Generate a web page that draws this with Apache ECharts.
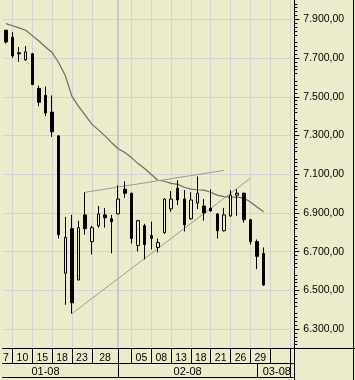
<!DOCTYPE html>
<html><head><meta charset="utf-8">
<script src="https://cdn.jsdelivr.net/npm/echarts@6/dist/echarts.min.js"></script>
<style>html,body{margin:0;padding:0;background:#ECEBCC}#c{width:355px;height:380px}</style>
</head><body><div id="c"></div>
<script>
const dates = [
 '2008-01-09','2008-01-10','2008-01-11','2008-01-14','2008-01-15','2008-01-16','2008-01-17','2008-01-18',
 '2008-01-21','2008-01-22','2008-01-23','2008-01-24','2008-01-25','2008-01-28','2008-01-29','2008-01-30','2008-01-31',
 '2008-02-01','2008-02-04','2008-02-05','2008-02-06','2008-02-07','2008-02-08','2008-02-11','2008-02-12','2008-02-13',
 '2008-02-14','2008-02-15','2008-02-18','2008-02-19','2008-02-20','2008-02-21','2008-02-22','2008-02-25','2008-02-26',
 '2008-02-27','2008-02-28','2008-02-29','2008-03-03','2008-03-04','2008-03-05','2008-03-06','2008-03-07','2008-03-10'
];
const opens  = [7844,7808,7727,7691,7722,7543,7507,7421,7298,6589,6819,6554,6890,6752,6834,6890,6870,6895,7023,7002,6732,6834,6783,6722,6798,6921,7028,6972,6870,6951,6936,6926,6895,6808,6885,6992,7002,6865,6752,6691];
const closes = [7783,7711,7722,7732,7563,7472,7416,7319,6788,6773,6436,6824,6819,6824,6895,6875,6855,6972,7002,6768,6860,6737,6768,6747,6972,6972,6967,6839,6967,7002,6900,6911,6808,6890,6992,7002,6865,6752,6676,6528];
const lows   = [7775,7701,7681,7686,7560,7451,7400,7293,6768,6426,6380,6552,6788,6686,6824,6824,6691,6893,6977,6742,6701,6660,6712,6696,6793,6906,6941,6804,6865,6921,6860,6906,6768,6805,6880,6885,6850,6737,6610,6523];
const highs  = [7846,7834,7757,7762,7727,7558,7553,7507,7303,6880,6890,6860,7007,6834,6936,6926,6890,7043,7064,7005,6865,6844,6855,6768,6977,7013,7069,7018,7007,7089,6972,7023,6898,6926,7018,7023,7005,6870,6763,6722];
const ma20   = [7878,7867,7856,7844,7816,7788,7757,7729,7676,7609,7502,7451,7405,7359,7329,7298,7263,7232,7212,7186,7155,7130,7099,7069,7064,7053,7048,7033,7023,7020,7018,7007,6992,6984,6982,6982,6977,6957,6931,6906];
const upperTrend = [[12, 7007], [33, 7120]];
const lowerTrend = [[10, 6380], [37, 7079]];
const dayCellStart = [-2, 1, 4, 7, 10, 13, 17, 19, 22, 25, 28, 31, 34, 37, 40, 43];
const dayCellLabel = ['7','10','15','18','23','28','','05','08','13','18','21','26','29','',''];
const monthCellStart = [-5, 17, 38];
const monthCellLabel = ['01-08','02-08','03-08'];
const monthSep = [17, 38, 43];
const monthLineIdx = [17];
const yTicks = [6300, 6500, 6700, 6900, 7100, 7300, 7500, 7700, 7900];

const BG = '#ECEBCC';
const gridLeft = -2.36, gridWidth = 295.7;
const band = gridWidth / dates.length;
const visEnd = dates.length - 0.5;

function cellLabelMap(starts, labels) {
  const m = {};
  for (let k = 0; k < starts.length; k++) {
    if (!labels[k]) continue;
    const end = k + 1 < starts.length ? starts[k + 1] : visEnd;
    let mid = (starts[k] + end) / 2;
    mid = Math.max(0, Math.min(dates.length - 1, mid));
    const pos = Math.round(mid * 2) / 2;
    m[Math.floor(pos)] = { text: labels[k], shift: pos % 1 !== 0 };
  }
  return m;
}
const dayMap = cellLabelMap(dayCellStart, dayCellLabel);
const monthMap = cellLabelMap(monthCellStart, monthCellLabel);
const daySep = new Set(dayCellStart.filter(i => i >= 0));
const monthSepSet = new Set(monthSep);
const monthLineSet = new Set(monthLineIdx);

function fmtLabel(map) {
  return (v, i) => {
    const e = map[i];
    if (!e) return '';
    return (e.shift ? '{s|' : '{n|') + e.text + '}';
  };
}
function yFmt(v) {
  const th = Math.floor(v / 1000), rest = String(v % 1000).padStart(3, '0');
  return th + '.' + rest + ',00';
}
const FONT = 'Liberation Sans, Arial, sans-serif';
const ohlc = opens.map((o, i) => [o, closes[i], lows[i], highs[i]]);

const chart = echarts.init(document.getElementById('c'), null, { renderer: 'canvas' });
chart.setOption({
  backgroundColor: BG,
  animation: false,
  grid: { left: gridLeft, top: -4.5, width: gridWidth, height: 353 },
  xAxis: [
    {
      type: 'category', data: dates, boundaryGap: true, position: 'bottom',
      axisLine: { show: true, lineStyle: { color: '#000', width: 1 } },
      axisTick: { show: true, alignWithLabel: true, interval: (i) => daySep.has(i), length: 15, lineStyle: { color: '#000', width: 1 } },
      axisLabel: {
        show: true, interval: (i) => dayMap[i] != null, formatter: fmtLabel(dayMap), margin: 4,
        color: '#000', fontSize: 10.5, fontFamily: FONT,
        rich: { n: { fontSize: 10.5, fontFamily: FONT, color: '#000' }, s: { fontSize: 10.5, fontFamily: FONT, color: '#000', padding: [0, 0, 0, band] } }
      },
      splitLine: { show: true, alignWithLabel: true, interval: (i) => daySep.has(i), lineStyle: { color: '#D3D3D3', width: 1 } }
    },
    {
      type: 'category', data: dates, boundaryGap: true, position: 'bottom', offset: 15,
      axisLine: { show: true, lineStyle: { color: '#000', width: 1 } },
      axisTick: { show: true, alignWithLabel: true, interval: (i) => monthSepSet.has(i), length: 14, lineStyle: { color: '#000', width: 1 } },
      axisLabel: {
        show: true, interval: (i) => monthMap[i] != null, formatter: fmtLabel(monthMap), margin: 3,
        color: '#000', fontSize: 11, fontFamily: FONT,
        rich: { n: { fontSize: 11, fontFamily: FONT, color: '#000' }, s: { fontSize: 11, fontFamily: FONT, color: '#000', padding: [0, 0, 0, band] } }
      },
      splitLine: { show: true, alignWithLabel: true, interval: (i) => monthLineSet.has(i), lineStyle: { color: '#C9C9C9', width: 2 } }
    },
    {
      type: 'category', data: dates, boundaryGap: true, position: 'bottom', offset: 29,
      axisLine: { show: true, lineStyle: { color: '#000', width: 1 } },
      axisTick: { show: false }, axisLabel: { show: false }, splitLine: { show: false }
    }
  ],
  yAxis: {
    type: 'value', position: 'right', offset: 1, min: 6200, max: 8000, interval: 200,
    axisLine: { show: true, lineStyle: { color: '#000', width: 1 } },
    axisTick: { show: true, customValues: yTicks, length: 5, lineStyle: { color: '#000' } },
    minorTick: { show: true, splitNumber: 10, length: 3, lineStyle: { color: '#000' } },
    axisLabel: { customValues: yTicks, formatter: yFmt, margin: 9, color: '#000', fontSize: 10.5, fontFamily: FONT },
    splitLine: { show: true, lineStyle: { color: '#D3D3D3', width: 1 } }
  },
  series: [
    { type: 'line', data: ma20, symbol: 'none', silent: true, lineStyle: { color: '#6a6a6a', width: 1.2 }, z: 2 },
    { type: 'line', data: upperTrend, symbol: 'none', silent: true, lineStyle: { color: '#9a9a9a', width: 1 }, z: 2 },
    { type: 'line', data: lowerTrend, symbol: 'none', silent: true, lineStyle: { color: '#9a9a9a', width: 1 }, z: 2 },
    {
      type: 'candlestick', data: ohlc, barWidth: 3, silent: true, z: 3,
      itemStyle: { color: BG, color0: '#000', borderColor: '#000', borderColor0: '#000', borderWidth: 1 }
    }
  ],
  graphic: [
    { type: 'line', silent: true, shape: { x1: 294.5, y1: 348, x2: 294.5, y2: 380 }, style: { stroke: '#000', lineWidth: 1 } },
    { type: 'line', silent: true, shape: { x1: 294, y1: 348.5, x2: 355, y2: 348.5 }, style: { stroke: '#000', lineWidth: 1 } },
    { type: 'line', silent: true, shape: { x1: 353.5, y1: 0, x2: 353.5, y2: 380 }, style: { stroke: '#000', lineWidth: 1 } }
  ]
});
</script></body></html>
